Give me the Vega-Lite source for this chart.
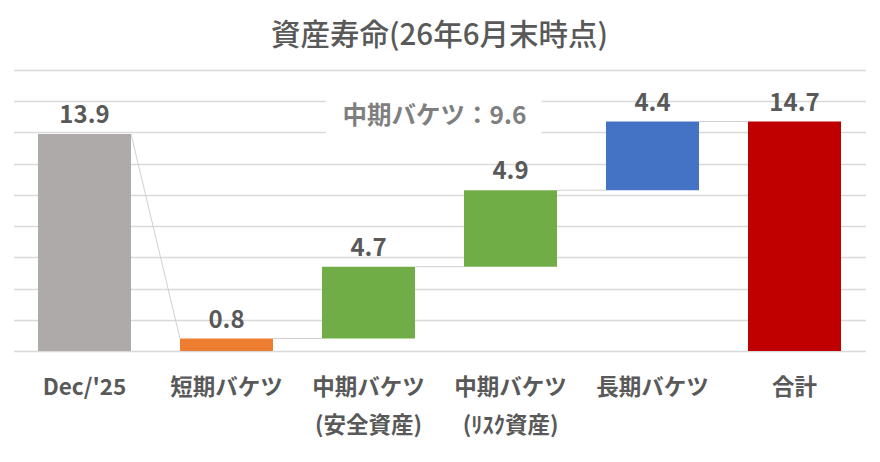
{
  "$schema": "https://vega.github.io/schema/vega-lite/v6.json",
  "autosize": "none",
  "width": 852,
  "height": 281,
  "padding": {"left": 13.5, "top": 70, "right": 14.5, "bottom": 111},
  "background": "white",
  "title": {
    "text": "資産寿命(26年6月末時点)",
    "font": "Noto Sans CJK JP",
    "fontSize": 29.5,
    "fontWeight": 500,
    "color": "#595959",
    "offset": 19
  },
  "datasets": {
    "bars": [
      {"cat": "Dec/'25", "lo": 0, "hi": 13.9, "label": "13.9"},
      {"cat": "短期バケツ", "lo": 0, "hi": 0.8, "label": "0.8"},
      {"cat": "中期バケツ|(安全資産)", "lo": 0.8, "hi": 5.4, "label": "4.7"},
      {"cat": "中期バケツ|(ﾘｽｸ資産)", "lo": 5.4, "hi": 10.3, "label": "4.9"},
      {"cat": "長期バケツ", "lo": 10.3, "hi": 14.7, "label": "4.4"},
      {"cat": "合計", "lo": 0, "hi": 14.7, "label": "14.7"}
    ],
    "links": [
      {"from": "Dec/'25", "to": "短期バケツ", "v1": 13.9, "v2": 0.8},
      {"from": "短期バケツ", "to": "中期バケツ|(安全資産)", "v1": 0.8, "v2": 0.8},
      {"from": "中期バケツ|(安全資産)", "to": "中期バケツ|(ﾘｽｸ資産)", "v1": 5.4, "v2": 5.4},
      {"from": "中期バケツ|(ﾘｽｸ資産)", "to": "長期バケツ", "v1": 10.3, "v2": 10.3},
      {"from": "長期バケツ", "to": "合計", "v1": 14.7, "v2": 14.7}
    ],
    "note": [
      {"from": "中期バケツ|(安全資産)", "to": "中期バケツ|(ﾘｽｸ資産)", "v": 15, "text": "中期バケツ：9.6"}
    ]
  },
  "layer": [
    {
      "data": {"name": "links"},
      "mark": {"type": "rule", "color": "#d0d0d0", "strokeWidth": 1},
      "encoding": {
        "x": {"field": "from", "type": "nominal", "bandPosition": 0.8275},
        "x2": {"field": "to", "bandPosition": 0.1725},
        "y": {"field": "v1", "type": "quantitative"},
        "y2": {"field": "v2"}
      }
    },
    {
      "data": {"name": "bars"},
      "mark": {"type": "bar", "width": {"band": 0.655}},
      "encoding": {
        "x": {"field": "cat", "type": "nominal"},
        "y": {"field": "lo", "type": "quantitative"},
        "y2": {"field": "hi"},
        "color": {
          "field": "cat",
          "type": "nominal",
          "legend": null,
          "scale": {
            "domain": ["Dec/'25", "短期バケツ", "中期バケツ|(安全資産)", "中期バケツ|(ﾘｽｸ資産)", "長期バケツ", "合計"],
            "range": ["#AEAAAA", "#ED7D31", "#70AD47", "#70AD47", "#4472C4", "#C00000"]
          }
        }
      }
    },
    {
      "data": {"name": "bars"},
      "mark": {
        "type": "text",
        "font": "Noto Sans CJK JP",
        "fontSize": 24,
        "fontWeight": "bold",
        "color": "#595959",
        "baseline": "alphabetic",
        "dy": -11
      },
      "encoding": {
        "x": {"field": "cat", "type": "nominal"},
        "y": {"field": "hi", "type": "quantitative"},
        "text": {"field": "label"}
      }
    },
    {
      "data": {"name": "note"},
      "mark": {"type": "rule", "color": "white", "strokeWidth": 34},
      "encoding": {
        "x": {"field": "from", "type": "nominal", "bandPosition": 0.2},
        "x2": {"field": "to", "bandPosition": 0.72},
        "y": {"field": "v", "type": "quantitative"}
      }
    },
    {
      "data": {"name": "note"},
      "mark": {
        "type": "text",
        "font": "Noto Sans CJK JP",
        "fontSize": 24.5,
        "fontWeight": "bold",
        "color": "#7f7f7f",
        "baseline": "middle",
        "dx": -5
      },
      "encoding": {
        "x": {"field": "to", "type": "nominal", "bandPosition": 0},
        "y": {"field": "v", "type": "quantitative"},
        "text": {"field": "text"}
      }
    }
  ],
  "encoding": {
    "x": {
      "scale": {
        "domain": ["Dec/'25", "短期バケツ", "中期バケツ|(安全資産)", "中期バケツ|(ﾘｽｸ資産)", "長期バケツ", "合計"],
        "paddingInner": 0,
        "paddingOuter": 0
      },
      "axis": {
        "title": null,
        "domain": false,
        "ticks": false,
        "labelAngle": 0,
        "labelFont": "Noto Sans CJK JP",
        "labelFontSize": 22.5,
        "labelFontWeight": "bold",
        "labelColor": "#595959",
        "labelPadding": 25,
        "labelLineHeight": 38,
        "labelExpr": "split(datum.label, '|')"
      }
    },
    "y": {
      "scale": {"domain": [0, 18], "nice": false},
      "axis": {
        "title": null,
        "labels": false,
        "ticks": false,
        "domain": false,
        "grid": true,
        "gridColor": "#d9d9d9",
        "gridWidth": 1.3,
        "values": [0, 2, 4, 6, 8, 10, 12, 14, 16, 18]
      }
    }
  },
  "config": {
    "view": {"stroke": null}
  }
}
